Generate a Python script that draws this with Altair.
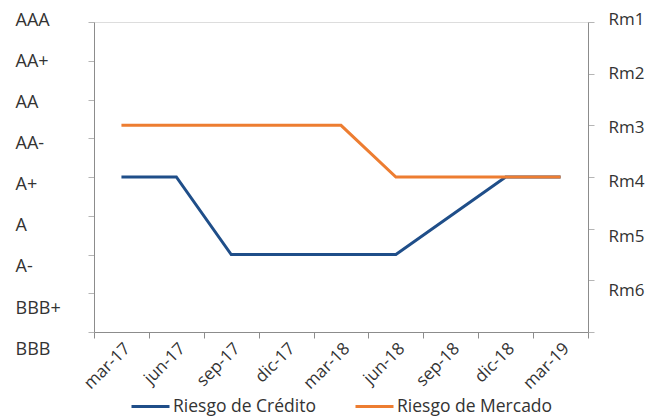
import json
import altair as alt
import pandas as pd

fechas = ["mar-17", "jun-17", "sep-17", "dic-17", "mar-18", "jun-18", "sep-18", "dic-18", "mar-19"]
ratings = ["AAA", "AA+", "AA", "AA-", "A+", "A", "A-", "BBB+", "BBB"]
rm_labels = ["Rm1", "Rm2", "Rm3", "Rm4", "Rm5", "Rm6", ""]
riesgo_credito = ["A+", "A+", "A-", "A-", "A-", "A-", "A", "A+", "A+"]
riesgo_mercado = ["Rm3", "Rm3", "Rm3", "Rm3", "Rm3", "Rm4", "Rm4", "Rm4", "Rm4"]
series = ["Riesgo de Crédito", "Riesgo de Mercado"]
colores = ["#1F4E89", "#ED7D31"]

df_c = pd.DataFrame({
    "fecha": fechas,
    "nivel": [ratings.index(r) for r in riesgo_credito],
    "serie": series[0],
})
df_m = pd.DataFrame({
    "fecha": fechas,
    "nivel": [rm_labels.index(r) + 1 for r in riesgo_mercado],
    "serie": series[1],
})

FONT = "Open Sans"
TXT = "#333333"
AX = "#8c8c8c"

x_enc = alt.X(
    "fecha:N", sort=fechas,
    scale=alt.Scale(type="band", paddingInner=0, paddingOuter=0),
    axis=alt.Axis(title=None, tickBand="extent", labelAngle=-45, labelAlign="right",
                  labelBaseline="top", labelPadding=2, labelFontSize=17, labelFont=FONT,
                  labelColor=TXT, domainColor=AX, tickColor=AX, tickSize=6, grid=False),
)
color_enc = alt.Color(
    "serie:N",
    scale=alt.Scale(domain=series, range=colores),
    legend=alt.Legend(title=None, orient="none", direction="horizontal", columns=2,
                      legendX=36, legendY=364, symbolType="stroke", symbolSize=1444,
                      symbolStrokeWidth=3, labelFontSize=17.5, labelFont=FONT, labelColor=TXT,
                      labelOffset=2, columnPadding=33, padding=0),
)

left = alt.Chart(df_c).mark_line(strokeWidth=3).encode(
    x=x_enc,
    y=alt.Y("nivel:Q",
            scale=alt.Scale(domain=[0, 8], reverse=True, nice=False, zero=False),
            axis=alt.Axis(orient="left", title=None, grid=False, values=list(range(9)),
                          labelExpr=json.dumps(ratings) + "[datum.value]",
                          labelAlign="left", labelPadding=73, labelFontSize=18,
                          labelFont=FONT, labelColor=TXT, domainColor=AX, tickColor="#b5b5b5",
                          tickSize=6, labelOffset={"expr": "-2 + 2.4 * datum.value"})),
    color=color_enc,
)

right = alt.Chart(df_m).mark_line(strokeWidth=3).encode(
    x=x_enc,
    y=alt.Y("nivel:Q",
            scale=alt.Scale(domain=[1, 7], reverse=True, nice=False, zero=False),
            axis=alt.Axis(orient="right", title=None, grid=False, values=list(range(1, 8)),
                          labelExpr=json.dumps(rm_labels) + "[datum.value - 1]",
                          labelAlign="left", labelPadding=14, labelFontSize=17,
                          labelFont=FONT, labelColor=TXT, domainColor=AX, tickColor="#b5b5b5",
                          tickSize=6, labelOffset={"expr": "-3 + 2.6 * (datum.value - 1)"})),
    color=color_enc,
)

chart = alt.layer(left, right).resolve_scale(y="independent").properties(
    width=494, height=310,
    autosize=alt.AutoSizeParams(type="none"),
    padding={"left": 86, "top": 14, "right": 70, "bottom": 85},
).configure_view(stroke=None).configure(background="white")

chart.save("out.html", embed_options={"renderer": "svg", "actions": False})
